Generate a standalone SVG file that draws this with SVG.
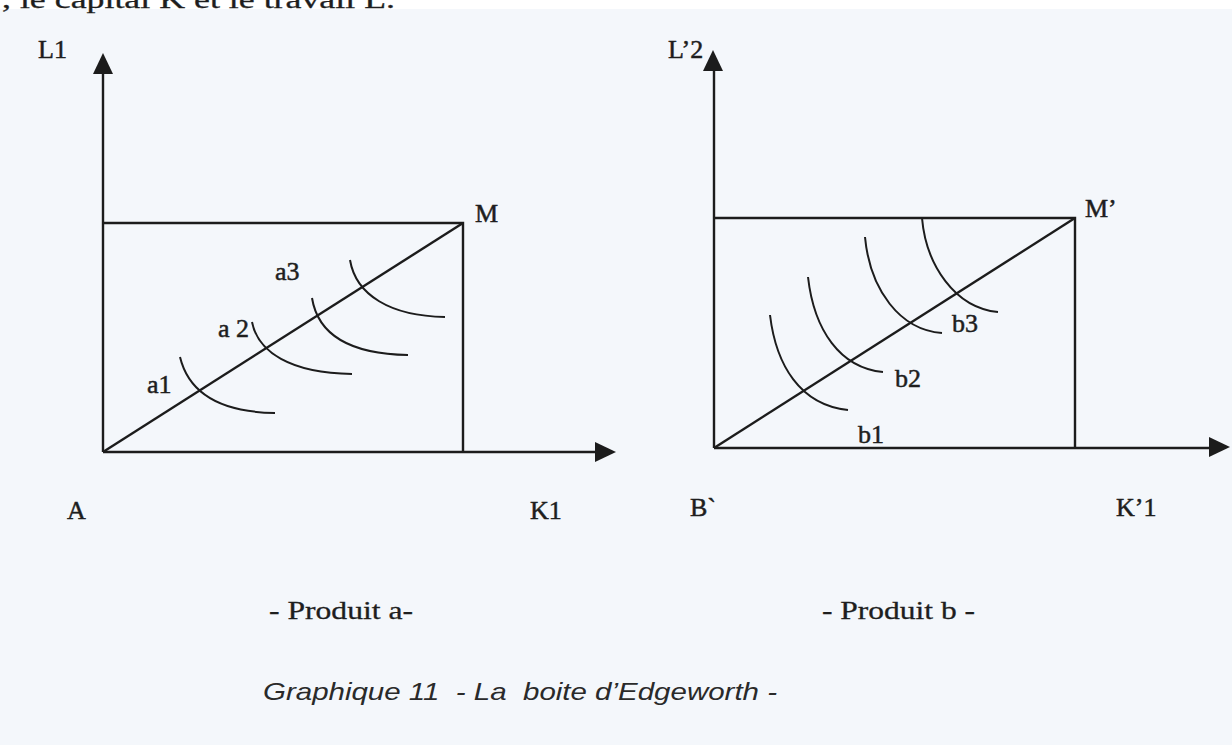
<svg xmlns="http://www.w3.org/2000/svg" width="1232" height="745" viewBox="0 0 1232 745">
<defs>
<style>
.ln{stroke:#1c1c1c;stroke-width:2.4;fill:none}
.cv{stroke:#1c1c1c;stroke-width:2;fill:none}
.ah{fill:#1c1c1c}
.lb{font-family:"Liberation Serif",serif;font-size:26px;fill:#1e1e1e;stroke:#1e1e1e;stroke-width:0.5}
.cap{font-family:"Liberation Serif",serif;font-size:26px;fill:#1e1e1e;stroke:#1e1e1e;stroke-width:0.3}
.tit{font-family:"Liberation Sans",sans-serif;font-style:italic;font-size:24px;fill:#2a2a2a;white-space:pre}
</style>
</defs>
<rect x="0" y="0" width="1232" height="745" fill="#ffffff"/>
<rect x="0" y="9" width="1232" height="736" fill="#f4f7fb"/>
<text x="2" y="8" class="cap" font-size="28" textLength="393" lengthAdjust="spacingAndGlyphs">, le capital K et le travail L.</text>

<g id="graph-a">
  <g id="axes-a">
    <line class="ln" x1="103" y1="452" x2="103" y2="70"/>
    <polygon class="ah" points="103,53 93,74 113,74"/>
    <line class="ln" x1="103" y1="452" x2="598" y2="452"/>
    <polygon class="ah" points="616,452 595,442 595,462"/>
  </g>
  <g id="box-a">
    <polyline class="ln" points="103,223 463,223 463,452"/>
    <line class="ln" x1="103" y1="452" x2="463" y2="223"/>
  </g>
  <g id="curves-a">
    <path class="cv" d="M180,357 C188,390 215,412 275,413"/>
    <path class="cv" d="M252,322 C258,352 290,373 352,374"/>
    <path class="cv" d="M312,298 C318,335 350,354 408,355"/>
    <path class="cv" d="M350,260 C356,295 390,316 445,317"/>
  </g>
  <g id="labels-a">
    <text class="lb" x="38" y="58">L1</text>
    <text class="lb" x="475" y="222">M</text>
    <text class="lb" x="275" y="280">a3</text>
    <text class="lb" x="218" y="337">a 2</text>
    <text class="lb" x="147" y="393">a1</text>
    <text class="lb" x="67" y="519">A</text>
    <text class="lb" x="530" y="519">K1</text>
    <text class="cap" x="269" y="619" textLength="144" lengthAdjust="spacingAndGlyphs">- Produit a-</text>
  </g>
</g>

<g id="graph-b">
  <g id="axes-b">
    <line class="ln" x1="714" y1="448" x2="714" y2="66"/>
    <polygon class="ah" points="713,50 703,71 723,71"/>
    <line class="ln" x1="714" y1="448" x2="1212" y2="448"/>
    <polygon class="ah" points="1230,447 1209,437 1209,457"/>
  </g>
  <g id="box-b">
    <polyline class="ln" points="714,218 1075,218 1075,448"/>
    <line class="ln" x1="714" y1="448" x2="1075" y2="218"/>
  </g>
  <g id="curves-b">
    <path class="cv" d="M770,315 C776,365 800,405 848,410"/>
    <path class="cv" d="M808,277 C814,330 840,368 883,372"/>
    <path class="cv" d="M865,237 C870,290 900,330 942,333"/>
    <path class="cv" d="M922,218 C926,265 955,308 998,312"/>
  </g>
  <g id="labels-b">
    <text class="lb" x="668" y="58">L’2</text>
    <text class="lb" x="1085" y="217">M’</text>
    <text class="lb" x="952" y="332">b3</text>
    <text class="lb" x="895" y="387">b2</text>
    <text class="lb" x="858" y="443">b1</text>
    <text class="lb" x="690" y="516">B`</text>
    <text class="lb" x="1116" y="516">K’1</text>
    <text class="cap" x="822" y="619" textLength="153" lengthAdjust="spacingAndGlyphs">- Produit b -</text>
  </g>
</g>

<g id="caption">
  <text class="tit" x="263" y="700" textLength="514" lengthAdjust="spacingAndGlyphs">Graphique 11  - La  boite d’Edgeworth -</text>
</g>
</svg>
